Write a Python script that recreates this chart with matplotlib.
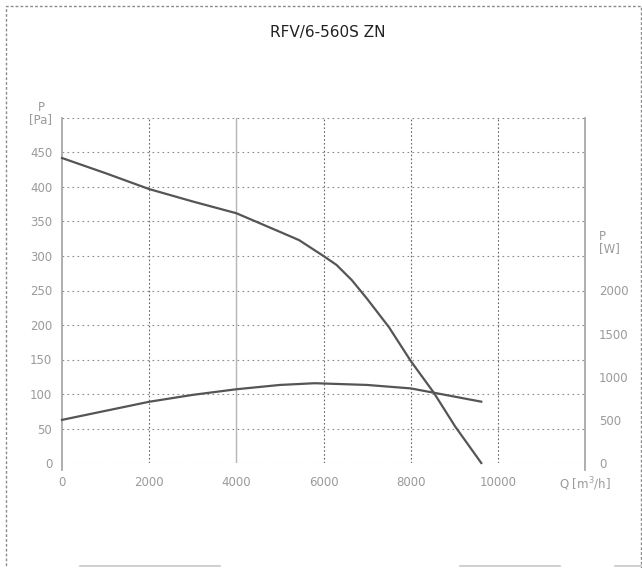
import matplotlib
matplotlib.use("Agg")
import matplotlib.pyplot as plt
from matplotlib.lines import Line2D
from matplotlib.patches import Rectangle

# ---- data ----
title = "RFV/6-560S ZN"
q_pressure = [0, 1000, 2000, 3000, 4000, 5000, 5440, 6000, 6300, 6650, 7000, 7500, 8000, 8530, 9020, 9620]
pressure_pa = [442, 420, 397, 379, 362, 335, 323, 300, 287, 265, 238, 197, 148, 102, 53, 0]
q_power = [0, 1000, 2000, 3000, 4000, 5000, 5800, 7000, 8000, 8530, 9620]
power_w = [500, 605, 710, 790, 855, 905, 925, 905, 865, 815, 711]
x_ticks = [0, 2000, 4000, 6000, 8000, 10000, 12000]
x_ticklabels = ["0", "2000", "4000", "6000", "8000", "10000", "Q [m$^3$/h]"]
pa_ticks = [0, 50, 100, 150, 200, 250, 300, 350, 400, 450, 500]
pa_ticklabels = ["0", "50", "100", "150", "200", "250", "300", "350", "400", "450", "[Pa]"]
w_ticks = [0, 500, 1000, 1500, 2000, 2500]
w_ticklabels = ["0", "500", "1000", "1500", "2000", "[W]"]

plt.rcParams['font.family'] = ['DejaVu Sans']

W, H = 642, 568
fig = plt.figure(figsize=(W / 100, H / 100), dpi=100)

left, right, top, bottom = 62, 585, 118, 463
ax = fig.add_axes([left / W, 1 - bottom / H, (right - left) / W, (bottom - top) / H])
ax.set_xlim(0, 12000)
ax.set_ylim(0, 500)
ax2 = ax.twinx()
ax2.set_ylim(0, 4000)

tick_col = "#9a9a9a"
for a in (ax, ax2):
    for s in a.spines.values():
        s.set_visible(False)

# grid lines
for yv in pa_ticks:
    ax.axhline(yv, color="#8a8a8a", lw=0.8, ls=(0, (1.5, 3.0)), zorder=1)
for xv in x_ticks[1:-1]:
    if xv == 4000:
        ax.axvline(xv, color="#b5b5b5", lw=1.0, zorder=1)
    else:
        ax.axvline(xv, color="#666666", lw=0.8, ls=(0, (1.5, 2.0)), zorder=1)

# side axis lines
ax.plot([0, 0], [-10, 500], color="#a8a8a8", lw=1.3, clip_on=False, zorder=2)
ax.plot([12000, 12000], [-10, 500], color="#a8a8a8", lw=1.3, clip_on=False, zorder=2)

# curves
ax.plot(q_pressure, pressure_pa, color="#555555", lw=1.6, zorder=3, clip_on=False)
ax2.plot(q_power, power_w, color="#555555", lw=1.6, zorder=3, clip_on=False)

# ticks
ax.set_xticks(x_ticks)
ax.set_xticklabels(x_ticklabels)
ax.set_yticks(pa_ticks)
ax.set_yticklabels(pa_ticklabels)
ax2.set_yticks(w_ticks)
ax2.set_yticklabels(w_ticklabels)
ax.tick_params(axis='both', length=0, labelsize=8.5, labelcolor=tick_col)
ax.tick_params(axis='x', pad=9)
ax.tick_params(axis='y', pad=7)
ax2.tick_params(axis='y', length=0, labelsize=8.5, labelcolor=tick_col, pad=10)

# axis name texts
ax.text(-0.032, 500 + 15, "P", transform=ax.get_yaxis_transform(), ha="right", va="center",
        fontsize=8.5, color=tick_col)
ax2.text(1.027, 2500 + 125, "P", transform=ax2.get_yaxis_transform(), ha="left", va="center",
         fontsize=8.5, color=tick_col)

fig.text(328 / W, 1 - 33 / H, title, ha="center", va="center", fontsize=11, color="#222222")

# outer dashed frame
fig.patches.append(Rectangle((6 / W, -0.05), (641 - 6) / W, 1 - 6 / H + 0.05,
                             transform=fig.transFigure, fill=False, ec="#8a8a8a",
                             lw=1.0, ls=(0, (2, 1.5))))
# faint bottom fragments
for x0, x1 in [(80, 220), (460, 560), (615, 642)]:
    fig.add_artist(Line2D([x0 / W, x1 / W], [1 - 566 / H] * 2, transform=fig.transFigure,
                          color="#c8c8c8", lw=1.2))

fig.savefig("out.png", dpi=100)
